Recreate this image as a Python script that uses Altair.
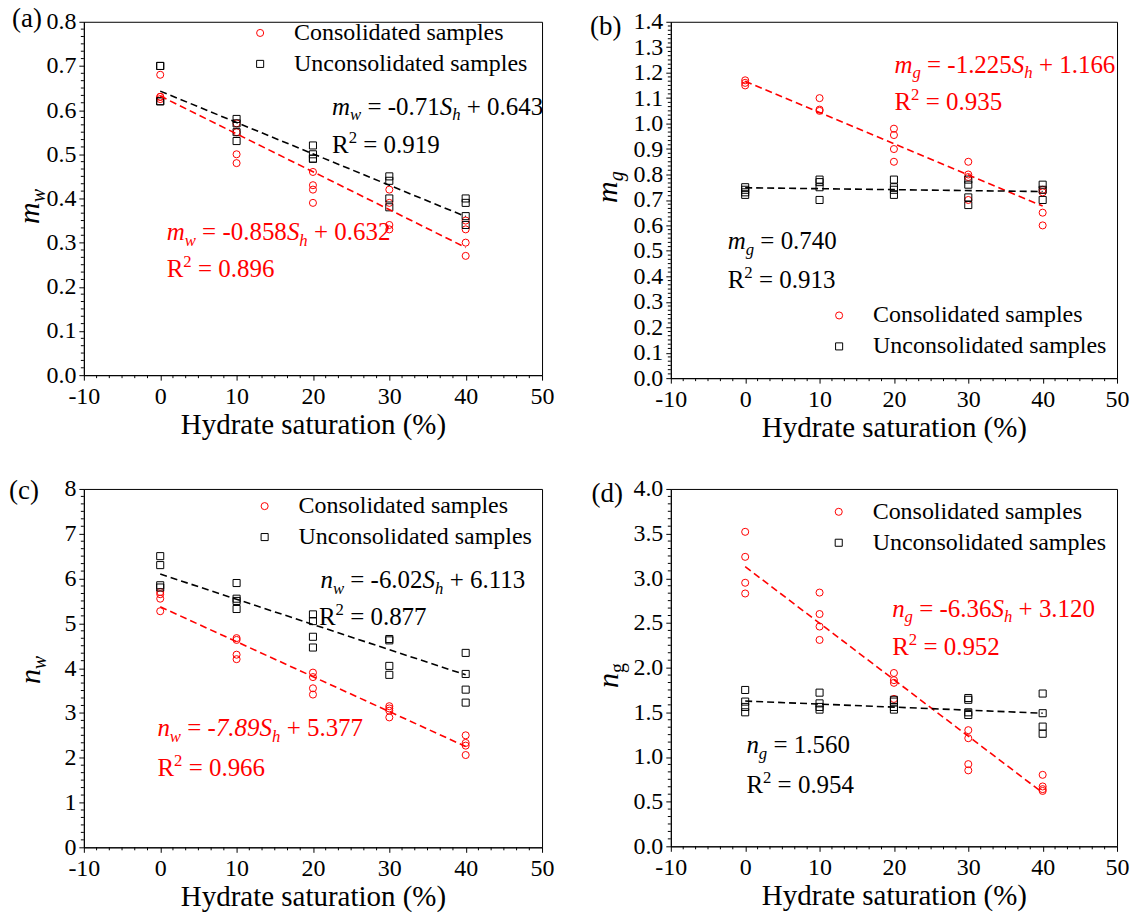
import altair as alt
import pandas as pd

FONT = "Liberation Serif"
RED = "#ff0000"
BLACK = "#000000"
SERIES = ["Consolidated samples", "Unconsolidated samples"]

# ---------------- data ----------------
sat = [0, 10, 20, 30, 40]
x_ticks = [-10, 0, 10, 20, 30, 40, 50]

a_con = [[0.68, 0.63, 0.63, 0.625], [0.57, 0.55, 0.50, 0.48], [0.46, 0.43, 0.42, 0.39],
         [0.42, 0.39, 0.34, 0.33], [0.35, 0.33, 0.30, 0.27]]
a_unc = [[0.70, 0.70, 0.62, 0.62], [0.58, 0.57, 0.55, 0.53], [0.52, 0.50, 0.49, 0.49],
         [0.45, 0.44, 0.40, 0.38], [0.40, 0.39, 0.36, 0.34]]
a_fit_con = [0.632, 0.289]
a_fit_unc = [0.643, 0.359]
a_yticks = [0.0, 0.1, 0.2, 0.3, 0.4, 0.5, 0.6, 0.7, 0.8]

b_con = [[1.17, 1.16, 1.15], [1.10, 1.055, 1.05], [0.98, 0.955, 0.90, 0.85],
         [0.85, 0.80, 0.79, 0.70], [0.74, 0.73, 0.65, 0.60]]
b_unc = [[0.75, 0.74, 0.73, 0.72], [0.78, 0.77, 0.75, 0.70], [0.78, 0.75, 0.74, 0.72],
         [0.78, 0.76, 0.71, 0.68], [0.76, 0.74, 0.70]]
b_fit_con = [1.166, 0.676]
b_fit_unc = [0.748, 0.733]
b_yticks = [0.0, 0.1, 0.2, 0.3, 0.4, 0.5, 0.6, 0.7, 0.8, 0.9, 1.0, 1.1, 1.2, 1.3, 1.4]

c_con = [[5.70, 5.65, 5.55, 5.27], [4.67, 4.63, 4.30, 4.20], [3.90, 3.80, 3.55, 3.41],
         [3.15, 3.10, 3.05, 2.90], [2.50, 2.33, 2.27, 2.06]]
c_unc = [[6.50, 6.30, 5.85, 5.80], [5.90, 5.55, 5.50, 5.32], [5.20, 5.05, 4.70, 4.46],
         [4.65, 4.62, 4.05, 3.85], [4.34, 3.87, 3.52, 3.23]]
c_fit_con = [5.37, 2.25]
c_fit_unc = [6.10, 3.85]
c_yticks = [0, 1, 2, 3, 4, 5, 6, 7, 8]

d_con = [[3.52, 3.24, 2.95, 2.83], [2.84, 2.60, 2.46, 2.31], [1.94, 1.86, 1.83, 1.65],
         [1.30, 1.21, 0.92, 0.85], [0.80, 0.67, 0.64, 0.62]]
d_unc = [[1.75, 1.62, 1.56, 1.50], [1.72, 1.60, 1.56, 1.53], [1.64, 1.62, 1.56, 1.53],
         [1.66, 1.64, 1.50, 1.47], [1.71, 1.49, 1.34, 1.26]]
d_fit_con = [3.13, 0.60]
d_fit_unc = [1.626, 1.49]
d_yticks = [0.0, 0.5, 1.0, 1.5, 2.0, 2.5, 3.0, 3.5, 4.0]

# ---------------- helpers ----------------
REG = {' ': 250, '-': 333, '+': 564, '=': 564, '.': 250, 'R': 667, '(': 333, ')': 333}
ITA = {'m': 722, 'n': 500, 'w': 667, 'g': 500, 'S': 500, 'h': 500, ' ': 250, '-': 333, '.': 250}
EQ_FS = 25


def text_width(text, size, italic):
    tbl = ITA if italic else REG
    return sum(tbl.get(ch, 500) for ch in text) / 1000.0 * size


def long_df(con, unc):
    rows = []
    for s, vals in zip(sat, con):
        for v in vals:
            rows.append({"S": s, "val": v, "series": SERIES[0]})
    for s, vals in zip(sat, unc):
        for v in vals:
            rows.append({"S": s, "val": v, "series": SERIES[1]})
    return pd.DataFrame(rows)


def minor_values(lo, hi, step, n=6):
    out = []
    k = 0
    v = lo
    while v < hi - 1e-9:
        for j in range(1, n):
            out.append(v + step * j / n)
        k += 1
        v = lo + k * step
    return out


def panel(label, con, unc, fit_con, fit_unc, yticks, yfmt, W, H, leg_xy,
          ytitle, label_xy, ytitle_xy, equations):
    ymax = yticks[-1]
    X = alt.X("S:Q", scale=alt.Scale(domain=[-10, 50], nice=False, zero=False),
              axis=alt.Axis(values=x_ticks, labelExpr="datum.value + ''",
                            title="Hydrate saturation (%)", labelFlush=False,
                            labelOverlap=False, labelPadding=4, titlePadding=2))
    Y = alt.Y("val:Q", scale=alt.Scale(domain=[0, ymax], nice=False, zero=False),
              axis=alt.Axis(values=yticks, format=yfmt, title=None, labelFlush=False,
                            labelOverlap=False, labelPadding=3))
    df = long_df(con, unc)
    leg = alt.Legend(orient="none", legendX=leg_xy[0], legendY=leg_xy[1], title=None)
    pts = alt.Chart(df).mark_point(filled=False, size=50, strokeWidth=1, opacity=1).encode(
        x=X, y=Y,
        color=alt.Color("series:N", scale=alt.Scale(domain=SERIES, range=[RED, BLACK]), legend=leg),
        shape=alt.Shape("series:N", scale=alt.Scale(domain=SERIES, range=["circle", "square"]), legend=leg),
    )
    layers = [pts]
    for fit, col in ((fit_con, RED), (fit_unc, BLACK)):
        fdf = pd.DataFrame({"S": [sat[0], sat[-1]], "val": fit})
        layers.append(alt.Chart(fdf).mark_line(color=col, strokeWidth=1.6, strokeDash=[7, 4]).encode(x=X, y=Y))
    # minor ticks
    xm = pd.DataFrame({"S": minor_values(-10, 50, 10)})
    layers.append(alt.Chart(xm).mark_rule(color=BLACK, strokeWidth=1).encode(
        x=X, y=alt.value(H), y2=alt.value(H + 3)))
    ym = pd.DataFrame({"val": minor_values(0, ymax, yticks[1] - yticks[0])})
    layers.append(alt.Chart(ym).mark_rule(color=BLACK, strokeWidth=1).encode(
        y=Y, x=alt.value(0), x2=alt.value(-3)))
    # equations (pieces: n = normal, i = italic, si = italic subscript, sup = superscript)
    one = pd.DataFrame({"k": [0]})
    fs = EQ_FS
    for pieces, sx, sy, col in equations:
        edf = pd.DataFrame({"S": [sx], "val": [sy]})
        dx = 0.0
        for text, style in pieces:
            italic = "i" in style
            if style == "si":
                size, dy = fs * 0.67, fs * 0.22
            elif style == "sup":
                size, dy = fs * 0.67, -fs * 0.40
            else:
                size, dy = fs, 0
            lead = len(text) - len(text.lstrip(" "))
            shown = text.strip(" ")
            draw_dx = dx + text_width(" " * lead, size, italic)
            layers.append(alt.Chart(edf).mark_text(
                text=shown, align="left", baseline="alphabetic", dx=draw_dx, dy=dy, font=FONT,
                fontSize=size, fontStyle="italic" if italic else "normal", color=col
            ).encode(x=X, y=Y))
            dx += text_width(text, size, italic)
    # y title (rotated with subscript)
    main, sub, sub_italic = ytitle
    layers.append(alt.Chart(one).mark_text(
        text=main, angle=270, align="left", baseline="alphabetic", font=FONT, fontSize=30,
        fontStyle="italic", color=BLACK).encode(x=alt.value(ytitle_xy[0]), y=alt.value(ytitle_xy[1])))
    layers.append(alt.Chart(one).mark_text(
        text=sub, angle=270, align="left", baseline="alphabetic", font=FONT, fontSize=20,
        fontStyle="italic" if sub_italic else "normal", color=BLACK,
        dx=text_width(main, 30, True), dy=6).encode(x=alt.value(ytitle_xy[0]), y=alt.value(ytitle_xy[1])))
    # panel label
    layers.append(alt.Chart(one).mark_text(
        text=label, align="left", baseline="middle", font=FONT, fontSize=27, color=BLACK
    ).encode(x=alt.value(label_xy[0]), y=alt.value(label_xy[1])))
    return alt.layer(*layers).properties(width=W, height=H)


def r2(value):
    return [("R", "n"), ("2", "sup"), (" = " + value, "n")]


A = panel("(a)", a_con, a_unc, a_fit_con, a_fit_unc, a_yticks, ".1f", 459, 354, (164.6, -0.8),
          ("m", "w", True), (-72, -2.5), (-45, 202.5),
          [([("m", "i"), ("w", "si"), (" = -0.71", "n"), ("S", "i"), ("h", "si"), (" + 0.643", "n")], 22.5, 0.590, BLACK),
           (r2("0.919"), 22.5, 0.504, BLACK),
           ([("m", "i"), ("w", "si"), (" = -0.858", "n"), ("S", "i"), ("h", "si"), (" + 0.632", "n")], 0.85, 0.305, RED),
           (r2("0.896"), 0.85, 0.222, RED)])

B = panel("(b)", b_con, b_unc, b_fit_con, b_fit_unc, b_yticks, ".1f", 447, 357, (156.6, 282.2),
          ("m", "g", True), (-81, 5.5), (-54, 181.5),
          [([("m", "i"), ("g", "si"), (" = -1.225", "n"), ("S", "i"), ("h", "si"), (" + 1.166", "n")], 20.07, 1.20, RED),
           (r2("0.935"), 20.07, 1.055, RED),
           ([("m", "i"), ("g", "si"), (" = 0.740", "n")], -2.35, 0.507, BLACK),
           (r2("0.913"), -2.35, 0.353, BLACK)])

C = panel("(c)", c_con, c_unc, c_fit_con, c_fit_unc, c_yticks, "d", 459, 359, (169.1, 5.2),
          ("n", "w", True), (-75, 2.5), (-44, 195.5),
          [([("n", "i"), ("w", "si"), (" = -6.02", "n"), ("S", "i"), ("h", "si"), (" + 6.113", "n")], 20.98, 5.78, BLACK),
           (r2("0.877"), 20.78, 4.97, BLACK),
           ([("n", "i"), ("w", "si"), (" = ", "n"), ("-7.89S", "i"), ("h", "si"), (" + 5.377", "n")], -0.37, 2.474, RED),
           (r2("0.966"), -0.37, 1.582, RED)])

D = panel("(d)", d_con, d_unc, d_fit_con, d_fit_unc, d_yticks, ".1f", 447, 358, (156.2, 10.9),
          ("n", "g", False), (-79.4, 5.5), (-53, 199.5),
          [([("n", "i"), ("g", "si"), (" = -6.36", "n"), ("S", "i"), ("h", "si"), (" + 3.120", "n")], 19.76, 2.57, RED),
           (r2("0.952"), 19.76, 2.142, RED),
           ([("n", "i"), ("g", "si"), (" = 1.560", "n")], 0.16, 1.042, BLACK),
           (r2("0.954"), 0.16, 0.595, BLACK)])

chart = alt.concat(
    A, B, C, D, columns=2, spacing={"row": 111, "column": 129}, bounds="flush"
).resolve_scale(color="independent", shape="independent").properties(
    padding={"left": 8, "top": 4, "right": 5, "bottom": 5},
    background="white",
).configure_view(stroke=BLACK, strokeWidth=1).configure_axis(
    labelFont=FONT, labelFontSize=24, labelColor=BLACK, tickColor=BLACK, tickSize=5,
    tickWidth=1, domainColor=BLACK, domainWidth=1, grid=False, titleFont=FONT,
    titleFontSize=29, titleFontWeight="normal", titleColor=BLACK,
).configure_legend(
    labelFont=FONT, labelFontSize=24, labelColor=BLACK, symbolSize=50, symbolStrokeWidth=1,
    rowPadding=7, labelOffset=22, padding=0, labelLimit=0,
)

chart.save("out.html", embed_options={"renderer": "svg", "actions": False})
